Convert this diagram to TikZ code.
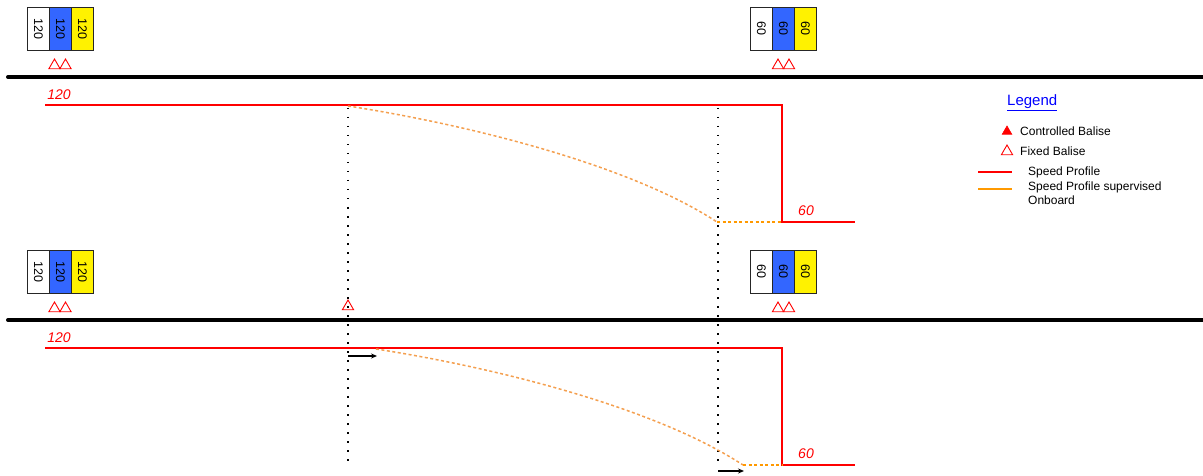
\documentclass[tikz,border=0pt]{standalone}
\usepackage{fontspec}
\setmainfont{Liberation Sans}
\usetikzlibrary{shapes.geometric,arrows.meta}
\definecolor{baliseblue}{RGB}{51,102,255}
\definecolor{prored}{RGB}{255,0,0}
\definecolor{supor}{RGB}{255,153,0}
\definecolor{curveor}{RGB}{244,160,80}
\tikzset{
  balbox/.style={draw=black!85, line width=0.9pt, minimum width=22pt, minimum height=43pt, inner sep=0pt, anchor=north west},
  baltext/.style={font=\fontsize{12.5}{12.5}\selectfont, rotate=-90},
  fixbal/.style={regular polygon, regular polygon sides=3, draw=prored, line width=0.9pt, minimum size=13pt, inner sep=0pt},
  ctrlbal/.style={regular polygon, regular polygon sides=3, draw=prored, fill=prored, line width=0.6pt, minimum size=11pt, inner sep=0pt},
  track/.style={line width=4pt, line cap=round},
  profile/.style={draw=prored, line width=1.5pt},
  supcurve/.style={draw=curveor, line width=1.5pt, dash pattern=on 3pt off 2.5pt},
  suphor/.style={draw=supor, line width=1.5pt, dash pattern=on 3pt off 2.5pt},
  marker/.style={draw=black, line width=1.4pt, dash pattern=on 1.5pt off 7.5pt},
  speedlbl/.style={text=prored, font=\fontsize{14}{14}\selectfont\itshape, inner sep=0pt},
  legtext/.style={font=\fontsize{12}{14}\selectfont, anchor=west, inner sep=0pt, align=left},
  movearrow/.style={draw=black, line width=1.2pt, -{Stealth[length=6pt,width=5pt]}},
}
\begin{document}
\begin{tikzpicture}[x=1pt,y=-1pt]
\useasboundingbox (0,0) rectangle (1203,476);

% ---------- both scenarios ----------
\foreach \yo/\nm in {0/a,243/b}{
  % balise group left (120)
  \node[balbox, fill=white] (\nm L1) at (27,7+\yo) {};
  \node[balbox, fill=baliseblue] (\nm L2) at (49,7+\yo) {};
  \node[balbox, fill=yellow] (\nm L3) at (71,7+\yo) {};
  \node[baltext] at (\nm L1.center) {120};
  \node[baltext] at (\nm L2.center) {120};
  \node[baltext] at (\nm L3.center) {120};
  % balise group right (60)
  \node[balbox, fill=white] (\nm R1) at (750,7+\yo) {};
  \node[balbox, fill=baliseblue] (\nm R2) at (772,7+\yo) {};
  \node[balbox, fill=yellow] (\nm R3) at (794,7+\yo) {};
  \node[baltext] at (\nm R1.center) {60};
  \node[baltext] at (\nm R2.center) {60};
  \node[baltext] at (\nm R3.center) {60};
  % fixed balises
  \node[fixbal] (\nm t1) at (54.5,65.5+\yo) {};
  \node[fixbal] (\nm t2) at (65.5,65.5+\yo) {};
  \node[fixbal] (\nm t3) at (778,65.5+\yo) {};
  \node[fixbal] (\nm t4) at (789,65.5+\yo) {};
  % track
  \coordinate (\nm trA) at (8,77+\yo);
  \coordinate (\nm trB) at (1203,77+\yo);
  \draw[track] (\nm trA) -- (\nm trB);
  % speed profile
  \coordinate (\nm p0) at (45,105+\yo);
  \coordinate (\nm p1) at (782,105+\yo);
  \coordinate (\nm p2) at (782,222+\yo);
  \coordinate (\nm p3) at (855,222+\yo);
  \draw[profile] (\nm p0) -- (\nm p1) -- (\nm p2) -- (\nm p3);
  \node[speedlbl] (\nm s120) at (59,95+\yo) {120};
  \node[speedlbl] (\nm s60) at (806,211+\yo) {60};
}

% extra fixed balise in lower scenario
\node[fixbal] (bt5) at (348,306.5) {};

% marker lines
\coordinate (m1a) at (348,108);
\coordinate (m1b) at (348,462);
\coordinate (m2a) at (718,108);
\coordinate (m2b) at (718,466);
\draw[marker] (m1a) -- (m1b);
\draw[marker] (m2a) -- (m2b);

% supervised curve, top
\coordinate (ac0) at (348,106);
\coordinate (ac1) at (717,222);
\draw[supcurve] (ac0) .. controls (470,125) and (630,165) .. (ac1);
\coordinate (ap2x) at (782,222);
\draw[suphor] (ac1) -- (ap2x);

% supervised curve, bottom
\coordinate (bc0) at (376,349);
\coordinate (bc1) at (743,465);
\draw[supcurve] (bc0) .. controls (498,368) and (656,408) .. (bc1);
\coordinate (bp2x) at (782,465);
\draw[suphor] (bc1) -- (bp2x);

% arrows
\coordinate (ar1a) at (348,356);
\coordinate (ar1b) at (377,356);
\draw[movearrow] (ar1a) -- (ar1b);
\coordinate (ar2a) at (718,471);
\coordinate (ar2b) at (744,471);
\draw[movearrow] (ar2a) -- (ar2b);

% ---------- legend ----------
\node[font=\fontsize{15}{15}\selectfont, text=blue, inner sep=0pt, anchor=west] (leg) at (1007,103) {\underline{Legend}};
\node[ctrlbal] (lc) at (1007,131.5) {};
\node[legtext] (lct) at (1020,131) {Controlled Balise};
\node[fixbal] (lf) at (1007,151.5) {};
\node[legtext] (lft) at (1020,151) {Fixed Balise};
\coordinate (lr1) at (978,172);
\coordinate (lr2) at (1012,172);
\draw[draw=prored, line width=1.5pt] (lr1) -- (lr2);
\node[legtext] (lrt) at (1028,172) {Speed Profile};
\coordinate (lo1) at (978,189);
\coordinate (lo2) at (1012,189);
\draw[draw=supor, line width=1.5pt] (lo1) -- (lo2);
\node[legtext] (lot) at (1028,193) {Speed Profile supervised\\Onboard};
\end{tikzpicture}
\end{document}
